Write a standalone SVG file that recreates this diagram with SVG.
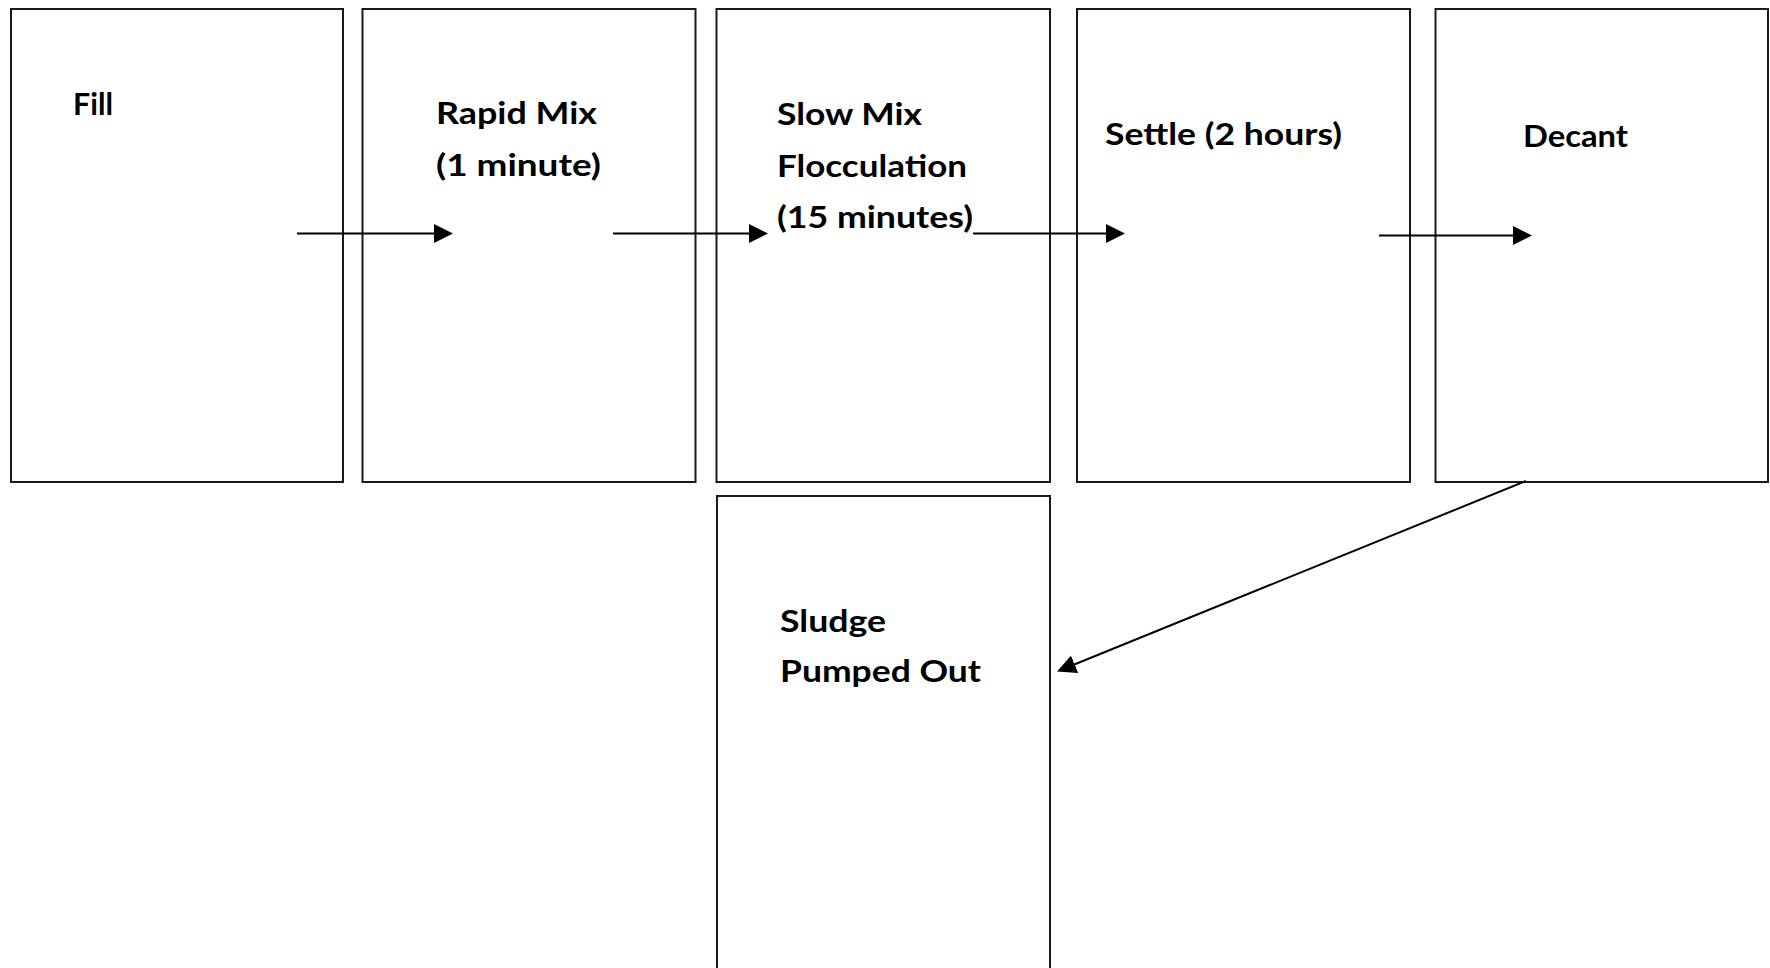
<svg xmlns="http://www.w3.org/2000/svg" width="1770" height="968" viewBox="0 0 1770 968">
  <style>
    .stage { fill: #ffffff; stroke: #1a1a1a; stroke-width: 2; }
    .label { font-family: Lato, "Liberation Sans", Arial, sans-serif; font-weight: bold; font-size: 30px; fill: #000000; }
    .flow { stroke: #000000; stroke-width: 2; fill: none; marker-end: url(#arrowhead); }
  </style>
  <defs>
    <marker id="arrowhead" markerUnits="userSpaceOnUse" markerWidth="20" markerHeight="20" refX="9" refY="9.5" orient="auto">
      <path d="M0,0 L19,9.5 L0,19 Z" fill="#000000"/>
    </marker>
  </defs>

  <rect width="1770" height="968" fill="#ffffff"/>

  <!-- Process stages -->
  <g id="fill">
    <rect class="stage" x="11" y="9" width="332" height="473"/>
    <text class="label" x="73" y="115" textLength="40" lengthAdjust="spacingAndGlyphs">Fill</text>
  </g>

  <g id="rapid-mix">
    <rect class="stage" x="362.5" y="9" width="333" height="473"/>
    <text class="label" x="436" y="124" textLength="161" lengthAdjust="spacingAndGlyphs">Rapid Mix</text>
    <text class="label" x="436" y="175.5" textLength="165" lengthAdjust="spacingAndGlyphs">(1 minute)</text>
  </g>

  <g id="slow-mix">
    <rect class="stage" x="716.5" y="9" width="333.5" height="473"/>
    <text class="label" x="777" y="124.5" textLength="145" lengthAdjust="spacingAndGlyphs">Slow Mix</text>
    <text class="label" x="777" y="176.5" textLength="190" lengthAdjust="spacingAndGlyphs">Flocculation</text>
    <text class="label" x="777" y="227.5" textLength="196" lengthAdjust="spacingAndGlyphs">(15 minutes)</text>
  </g>

  <g id="settle">
    <rect class="stage" x="1077" y="9" width="333" height="473"/>
    <text class="label" x="1105" y="145" textLength="237" lengthAdjust="spacingAndGlyphs">Settle (2 hours)</text>
  </g>

  <g id="decant">
    <rect class="stage" x="1435.5" y="9" width="332.5" height="473"/>
    <text class="label" x="1523" y="146.5" textLength="105" lengthAdjust="spacingAndGlyphs">Decant</text>
  </g>

  <g id="sludge">
    <rect class="stage" x="717" y="496" width="333" height="474"/>
    <text class="label" x="780" y="631.5" textLength="106" lengthAdjust="spacingAndGlyphs">Sludge</text>
    <text class="label" x="780" y="681.5" textLength="201" lengthAdjust="spacingAndGlyphs">Pumped Out</text>
  </g>

  <!-- Flow connectors -->
  <g id="connectors">
    <line class="flow" x1="297" y1="233.5" x2="443" y2="233.5"/>
    <line class="flow" x1="613" y1="233.5" x2="758" y2="233.5"/>
    <line class="flow" x1="973" y1="233.5" x2="1115" y2="233.5"/>
    <line class="flow" x1="1379" y1="235.5" x2="1522" y2="235.5"/>
    <line class="flow" x1="1526" y1="481" x2="1066.3" y2="667.7"/>
  </g>
</svg>
